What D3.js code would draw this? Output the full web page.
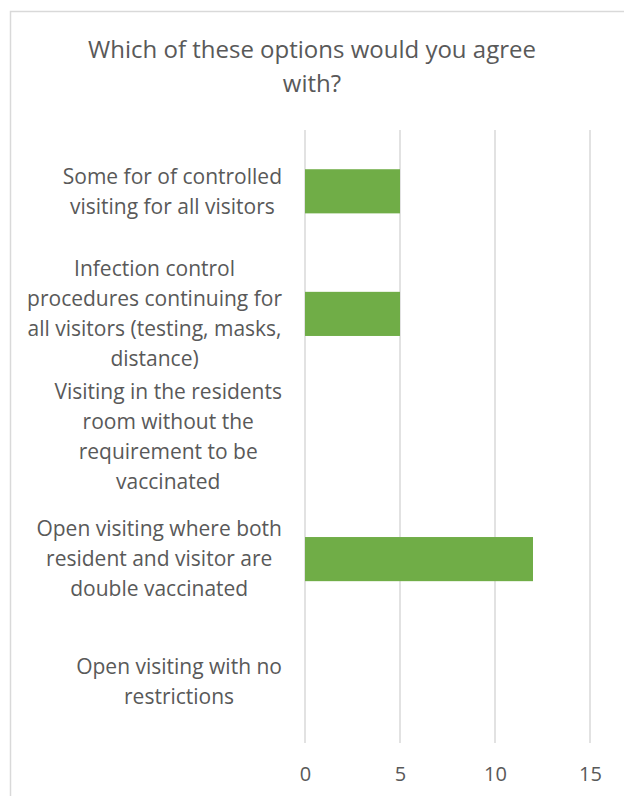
<!DOCTYPE html>
<html>
<head>
<meta charset="utf-8">
<script src="https://cdn.jsdelivr.net/npm/d3@7"></script>
<style>
  body { margin: 0; background: #fff; }
  text { font-family: "Open Sans", sans-serif; fill: #595959; }
</style>
</head>
<body>
<div id="chart"></div>
<script>
// chart data
var categories = [
  ["Some for of controlled", "visiting for all visitors"],
  ["Infection control", "procedures continuing for", "all visitors (testing, masks,", "distance)"],
  ["Visiting in the residents", "room without the", "requirement to be", "vaccinated"],
  ["Open visiting where both", "resident and visitor are", "double vaccinated"],
  ["Open visiting with no", "restrictions"]
];
var values = [5, 5, 0, 12, 0];
var xTicks = [0, 5, 10, 15];
var titleLines = ["Which of these options would you agree", "with?"];

var svgWidth = 624;
var svgHeight = 796;

var plot = { left: 305, right: 590, top: 130, bottom: 743 };

var svg = d3.select("#chart")
  .append("svg")
  .attr("width", svgWidth)
  .attr("height", svgHeight);

// outer chart border
svg.append("rect")
  .attr("x", 10.5)
  .attr("y", 11.5)
  .attr("width", 640)
  .attr("height", 820)
  .attr("fill", "none")
  .attr("stroke", "#d9d9d9")
  .attr("stroke-width", 1.5);

// title
svg.append("text")
  .attr("x", svgWidth / 2)
  .attr("y", 58)
  .attr("text-anchor", "middle")
  .style("font-size", "24px")
  .selectAll("tspan")
  .data(titleLines)
  .enter()
  .append("tspan")
  .attr("x", svgWidth / 2)
  .attr("dy", (d, i) => i === 0 ? 0 : 34)
  .text(d => d);

// scales
var xScale = d3.scaleLinear()
  .domain([0, 15])
  .range([plot.left, plot.right]);

var yScale = d3.scaleBand()
  .domain(d3.range(categories.length))
  .range([plot.top, plot.bottom])
  .paddingInner(0.64)
  .paddingOuter(0.32);

// gridlines
svg.append("g")
  .selectAll("line")
  .data(xTicks)
  .enter()
  .append("line")
  .attr("x1", d => xScale(d))
  .attr("x2", d => xScale(d))
  .attr("y1", plot.top)
  .attr("y2", plot.bottom)
  .attr("stroke", "#d9d9d9")
  .attr("stroke-width", 1.5);

// bars
svg.append("g")
  .selectAll("rect")
  .data(values)
  .enter()
  .append("rect")
  .attr("x", xScale(0))
  .attr("y", (d, i) => yScale(i))
  .attr("width", d => xScale(d) - xScale(0))
  .attr("height", yScale.bandwidth())
  .attr("fill", "#70ad47");

// x axis tick labels
var xAxis = d3.axisBottom(xScale).tickValues(xTicks).tickSize(0).tickPadding(0);
var xAxisGroup = svg.append("g")
  .attr("transform", `translate(0, ${plot.bottom + 24})`)
  .call(xAxis);
xAxisGroup.select(".domain").remove();
xAxisGroup.selectAll("text")
  .style("font-family", "'Open Sans', sans-serif")
  .style("font-size", "20px")
  .attr("fill", "#595959");

// category labels, each line centred in a block that is right aligned
var labelRight = 282;
var lineHeight = 30;
categories.forEach(function(lines, i) {
  var cy = yScale(i) + yScale.bandwidth() / 2;
  var g = svg.append("g");
  var texts = g.selectAll("text")
    .data(lines)
    .enter()
    .append("text")
    .attr("y", (d, j) => cy + (j - (lines.length - 1) / 2) * lineHeight)
    .attr("dy", "0.35em")
    .attr("text-anchor", "middle")
    .style("font-size", "21px")
    .text(d => d);
  var maxW = d3.max(texts.nodes(), n => n.getComputedTextLength());
  texts.attr("x", labelRight - maxW / 2);
});
</script>
</body>
</html>
